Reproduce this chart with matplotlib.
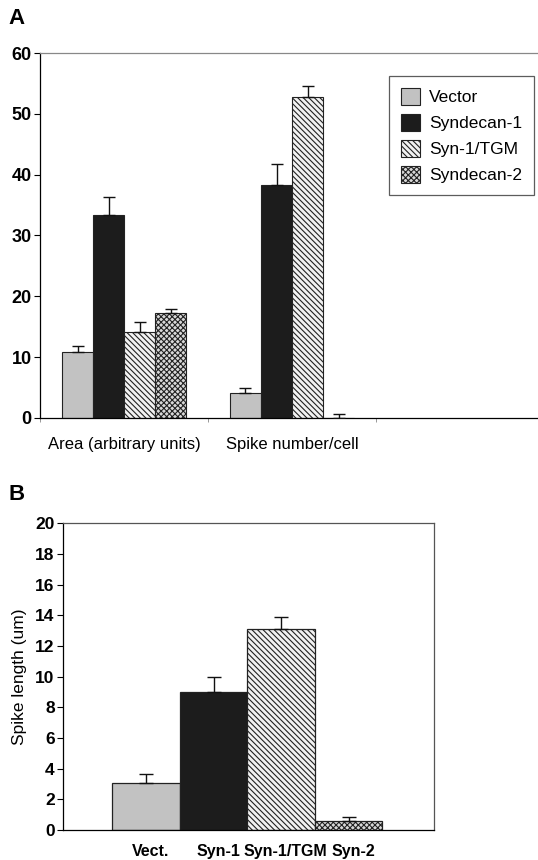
import matplotlib
matplotlib.use("Agg")
import matplotlib.pyplot as plt
import numpy as np

plt.rcParams['font.family'] = ['Liberation Sans', 'DejaVu Sans']
plt.rcParams['hatch.linewidth'] = 0.8

# Panel A data
series = ["Vector", "Syndecan-1", "Syn-1/TGM", "Syndecan-2"]
a_categories = ["Area (arbitrary units)", "Spike number/cell"]
a_values = {
    "Vector": [10.9, 4.05],
    "Syndecan-1": [33.4, 38.3],
    "Syn-1/TGM": [14.2, 52.8],
    "Syndecan-2": [17.2, 0.0],
}
a_errors = {
    "Vector": [0.9, 0.85],
    "Syndecan-1": [3.0, 3.4],
    "Syn-1/TGM": [1.6, 1.7],
    "Syndecan-2": [0.8, 0.6],
}
a_yticks = [0, 10, 20, 30, 40, 50, 60]

# Panel B data
b_categories = ["Vect.", "Syn-1", "Syn-1/TGM", "Syn-2"]
b_values = [3.05, 9.02, 13.1, 0.61]
b_errors = [0.58, 0.94, 0.8, 0.24]
b_yticks = [0, 2, 4, 6, 8, 10, 12, 14, 16, 18, 20]

styles = {
    "Vector": dict(facecolor="#c2c2c2", hatch=None),
    "Syndecan-1": dict(facecolor="#1c1c1c", hatch=None),
    "Syn-1/TGM": dict(facecolor="#f2f2f2", hatch="\\\\\\\\\\\\"),
    "Syndecan-2": dict(facecolor="#d8d8d8", hatch="xxxxxx"),
}

fig = plt.figure(figsize=(5.38, 8.6), dpi=100)

# ---------- Panel A ----------
axA = fig.add_axes([40/538, 1-418/860, 498/538, (418-53)/860])
bw = 31/168
cx = np.arange(len(a_categories)) + 0.5
for i, s in enumerate(series):
    x = cx + (i - 1.5) * bw
    st = styles[s]
    axA.bar(x, a_values[s], width=bw, facecolor=st["facecolor"], hatch=st["hatch"],
            edgecolor="#222222", linewidth=0.8, label=s, zorder=2)
    axA.errorbar(x, a_values[s], yerr=[np.zeros(len(x)), a_errors[s]], fmt="none",
                 ecolor="#111111", elinewidth=1.0, capsize=4, capthick=1.0, zorder=3)
axA.set_xlim(0, 498/168)
axA.set_ylim(0, 60)
axA.set_yticks(a_yticks)
axA.set_xticks([0, 1, 2])
axA.set_xticklabels([])
axA.set_xticks(cx, minor=True)
axA.set_xticklabels(a_categories, minor=True, fontsize=12)
axA.tick_params(axis="x", which="minor", length=0, pad=14)
axA.tick_params(axis="x", which="major", length=3, direction="out", width=0.6, color="#888888")
axA.tick_params(axis="y", labelsize=13, length=4, width=0.8, pad=2)
for lab in axA.get_yticklabels():
    lab.set_fontweight("bold")
axA.spines["right"].set_visible(False)
axA.spines["top"].set_color("#888888")
axA.spines["top"].set_linewidth(0.9)
axA.spines["left"].set_linewidth(0.9)
axA.spines["bottom"].set_linewidth(0.9)
leg = axA.legend(loc="upper left", bbox_to_anchor=((389-40)/498, (418-76)/365),
                 fontsize=12.5, frameon=True, fancybox=False, edgecolor="#333333",
                 handlelength=1.1, handleheight=1.1, handletextpad=0.5,
                 borderpad=0.7, labelspacing=0.5, borderaxespad=0)
leg.get_frame().set_linewidth(0.9)

fig.text(8/538, 1-18/860, "A", fontsize=16, fontweight="bold", va="center", ha="left")

# ---------- Panel B ----------
axB = fig.add_axes([63/538, 1-830/860, (434-63)/538, (830-523.3)/860])
xb = np.arange(len(b_categories))
for i, s in enumerate(series):
    st = styles[s]
    axB.bar(xb[i], b_values[i], width=1.0, facecolor=st["facecolor"], hatch=st["hatch"],
            edgecolor="#222222", linewidth=0.9, zorder=2)
axB.errorbar(xb, b_values, yerr=[np.zeros(len(xb)), b_errors], fmt="none",
             ecolor="#111111", elinewidth=1.0, capsize=5, capthick=1.0, zorder=3)
axB.set_xlim(-83/67.5, -83/67.5 + 371/67.5)
axB.set_ylim(0, 20)
axB.set_yticks(b_yticks)
axB.set_xticks(xb + 0.07)
axB.set_xticklabels(b_categories, fontsize=11.5)
axB.tick_params(axis="x", length=0, pad=10)
axB.tick_params(axis="y", labelsize=12.5, length=4, width=0.8, pad=2)
for lab in axB.get_xticklabels() + axB.get_yticklabels():
    lab.set_fontweight("bold")
axB.set_ylabel("Spike length (um)", fontsize=12.5, labelpad=6)
for sp in axB.spines.values():
    sp.set_linewidth(0.9)
axB.spines["top"].set_color("#555555")
axB.spines["right"].set_color("#555555")

fig.text(8/538, 1-495/860, "B", fontsize=16, fontweight="bold", va="center", ha="left")

fig.savefig("out.png", dpi=100, facecolor="white")
